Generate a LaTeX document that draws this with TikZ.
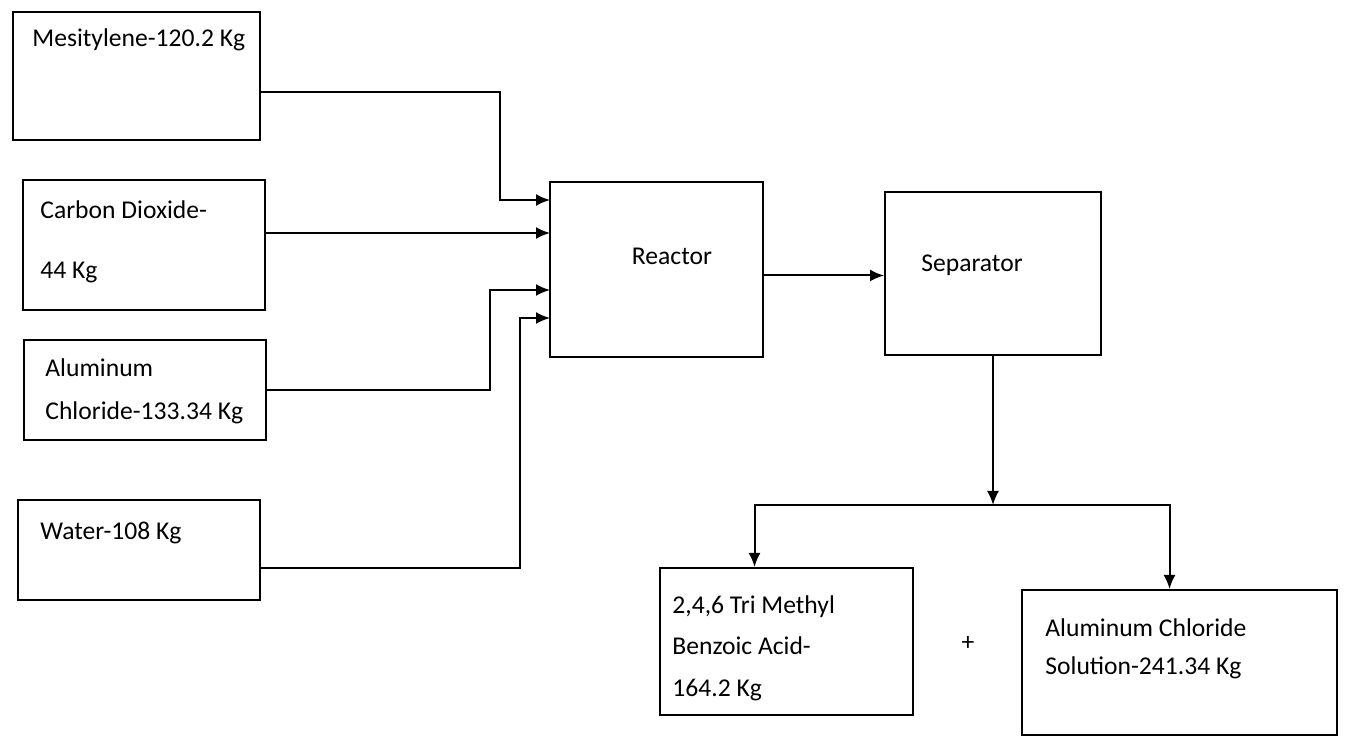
\documentclass[tikz,border=0pt]{standalone}
\usepackage{fontspec}
\setmainfont{Carlito}
\usetikzlibrary{arrows.meta}

\tikzset{
  blk/.style={draw,line width=1pt,inner sep=0pt},
  lbl/.style={anchor=west,inner sep=0pt,align=left,font=\fontsize{12.8}{15.4}\selectfont},
  flow/.style={line width=1pt,-{Latex[length=7pt,width=6pt]}}
}

\begin{document}
\begin{tikzpicture}[x=.5pt,y=-.5pt]
\useasboundingbox (0,0) rectangle (1350,742);
% feed boxes
\node[blk,minimum width=123.5pt,minimum height=64pt] (mes) at (136.5,76) {};
\node[blk,minimum width=121pt,minimum height=65pt] (co2) at (144,245) {};
\node[blk,minimum width=121pt,minimum height=50pt] (alcl) at (145,390) {};
\node[blk,minimum width=121pt,minimum height=50pt] (water) at (139,550) {};
\node[lbl] (mestxt) at (32,40) {Mesitylene-120.2 Kg};
\node[lbl] (co2txt) at (40,242) {Carbon Dioxide-\\[14.6pt]44 Kg};
\node[lbl] (alcltxt) at (45,391) {Aluminum\\[6pt]Chloride-133.34 Kg};
\node[lbl] (watertxt) at (40,533) {Water-108 Kg};
% units
\node[blk,minimum width=106.5pt,minimum height=87.5pt] (reac) at (656.5,269.5) {};
\node[blk,minimum width=108pt,minimum height=81.5pt] (sep) at (993,273.5) {};
\node[lbl,anchor=center] (reactxt) at (672,256) {Reactor};
\node[lbl,anchor=center] (septxt) at (972,265) {Separator};
% products
\node[blk,minimum width=126.5pt,minimum height=73.5pt] (prod1) at (786.5,641.5) {};
\node[blk,minimum width=157.5pt,minimum height=72.5pt] (prod2) at (1179.5,662.5) {};
\node[lbl] (prod1txt) at (672,648) {2,4,6 Tri Methyl\\[5.3pt]Benzoic Acid-\\[5.3pt]164.2 Kg};
\node[lbl] (prod2txt) at (1045,649) {Aluminum Chloride\\[3.6pt]Solution-241.34 Kg};
\node[lbl,anchor=center] (plus) at (968,643) {+};
% reactor inlets
\coordinate (in1) at (550,200);
\coordinate (in2) at (550,233);
\coordinate (in3) at (550,290);
\coordinate (in4) at (550,318);
\coordinate (split) at (993,505);
\draw[flow] ([yshift=-8pt]mes.east) -| (500,150) |- (in1);
\draw[flow] (co2.east |- in2) -- (in2);
\draw[flow] (alcl.east) -| (490,340) |- (in3);
\draw[flow] ([yshift=-9pt]water.east) -| (520,450) |- (in4);
\draw[flow] ([yshift=-3pt]reac.east) -- ([yshift=-3pt]reac.east -| sep.west);
\draw[flow] (sep.south) -- (split);
\draw[flow] (split) -| ([xshift=-16pt]prod1.north);
\draw[flow] (split) -| ([xshift=-5pt]prod2.north);
\end{tikzpicture}
\end{document}
